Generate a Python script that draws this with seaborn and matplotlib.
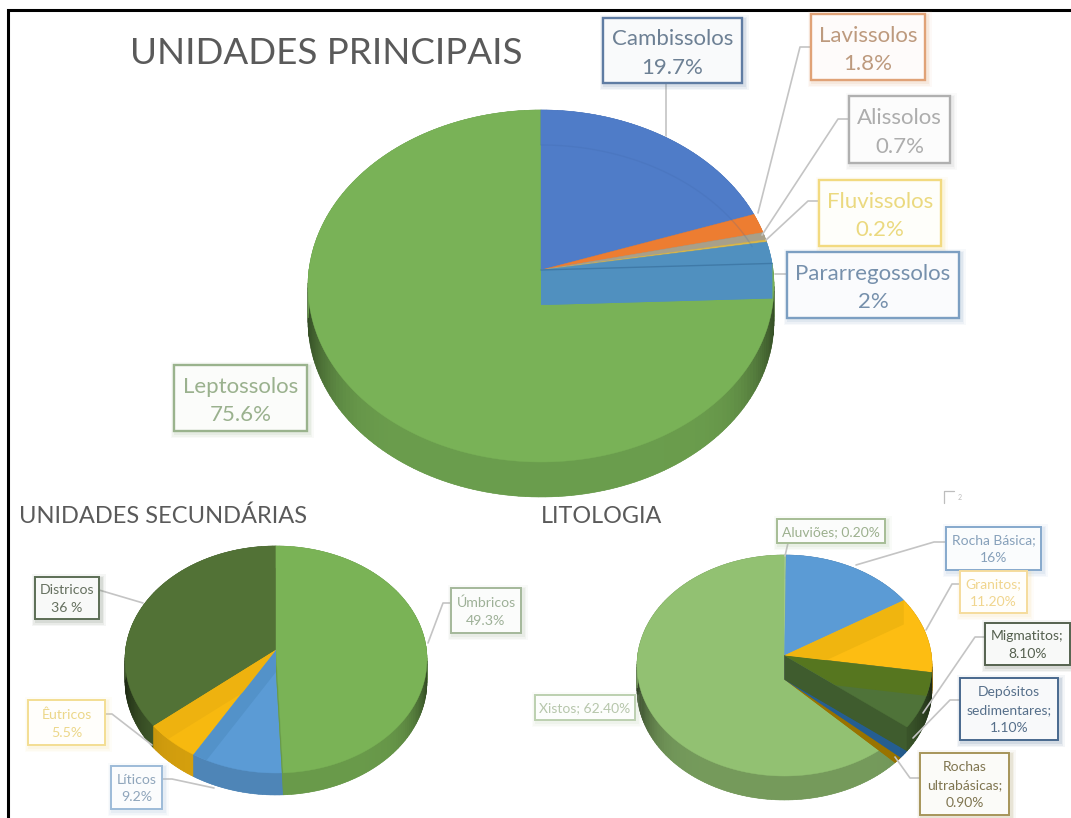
#!/usr/bin/env python3
import matplotlib
matplotlib.use("Agg")
import matplotlib.pyplot as plt
import numpy as np
import seaborn as sns
from matplotlib.colors import to_rgb
from matplotlib.patches import Polygon, Rectangle

# slices, clockwise from 12 o'clock
main_names = ["Cambissolos", "Lavissolos", "Alissolos", "Fluvissolos", "Pararregossolos", "Leptossolos"]
main_values = [19.7, 1.8, 0.7, 0.2, 2.0, 75.6]
main_labels = ["19.7%", "1.8%", "0.7%", "0.2%", "2%", "75.6%"]

sec_names = ["Úmbricos", "Líticos", "Êutricos", "Districos"]
sec_values = [49.3, 9.2, 5.5, 36.0]
sec_labels = ["49.3%", "9.2%", "5.5%", "36 %"]

lit_names = ["Aluviões", "Rocha Básica", "Granitos", "Migmatitos", "Depósitos sedimentares",
             "Rochas ultrabásicas", "Xistos"]
lit_values = [0.2, 16.0, 11.2, 8.1, 1.1, 0.9, 62.4]
lit_labels = ["Aluviões; 0.20%", "Rocha Básica;\n16%", "Granitos;\n11.20%", "Migmatitos;\n8.10%",
              "Depósitos\nsedimentares;\n1.10%", "Rochas\nultrabásicas;\n0.90%", "Xistos; 62.40%"]

main_colors = ["#4f7cc8", "#ed7d31", "#a8a08a", "#d9b84a", "#5090bf", "#79b257"]
main_walls = [0.88, 0.88, 0.88, 0.88, 1.0, 0.88]
sec_colors = ["#7ab356", "#5b9bd5", "#f7b90f", "#527236"]
sec_walls = [0.86, 0.86, 0.86, 0.82]
lit_colors = ["#a9d18e", "#5b9bd5", "#fdbd12", "#4f7339", "#255e91", "#997300", "#92c172"]
lit_walls = [0.8, 0.8, 0.8, 0.8, 1.0, 1.0, 0.8]

# (left, top, right, bottom) of the label boxes, and their leader lines
main_boxes = [(603, 18, 742, 83), (811, 14, 925, 80), (849, 96, 950, 163),
              (819, 180, 941, 246), (787, 252, 959, 318), (174, 365, 307, 431)]
main_leaders = [[(666, 83), (666, 136)], [(811, 47), (800, 47), (758, 213)],
                [(849, 119), (838, 119), (762, 235)], [(819, 201), (808, 201), (766, 240)],
                [(787, 274), (775, 274)], None]
main_edges = ["#5f7ca3", "#e0a277", "#b0b0b0", "#f2da80", "#7c9fc2", "#9ab38d"]
main_texts = ["#6d8094", "#bd9a7e", "#adadad", "#ebd97f", "#7690ac", "#9ab18e"]

sec_boxes = [(451, 588, 521, 633), (111, 766, 162, 809), (28, 700, 105, 745), (35, 577, 99, 619)]
sec_leaders = [[(451, 603), (443, 603), (428, 643)], [(162, 779), (172, 779), (214, 788)],
               [(105, 714), (112, 714), (152, 745)], [(99, 590), (143, 603)]]
sec_edges = ["#a4b89a", "#9dbbd8", "#f3de93", "#5c6e55"]
sec_texts = ["#9db097", "#8fa5bb", "#ecd78a", "#65705f"]

lit_boxes = [(777, 519, 885, 543), (946, 527, 1041, 570), (960, 571, 1027, 613),
             (985, 623, 1070, 665), (960, 678, 1058, 740), (920, 753, 1009, 815), (535, 695, 635, 720)]
lit_leaders = [[(788, 543), (785, 556)], [(946, 542), (934, 542), (856, 565)],
               [(960, 584), (952, 584), (926, 630)], [(985, 637), (975, 637), (923, 713)],
               [(960, 700), (950, 700), (913, 738)], [(920, 778), (910, 778), (895, 757)], None]
lit_edges = ["#a6bd95", "#86a9cc", "#f5dc9c", "#55624f", "#49698e", "#a6955a", "#bcd0b0"]
lit_texts = ["#9cb08e", "#86a0ba", "#f0d58e", "#55604f", "#566f8a", "#7f7550", "#b6c6ab"]

GREY_TITLE = "#5a5a5a"
LEADER = "#c4c4c4"

sns.set_theme(style="white")
plt.rcParams["font.family"] = ["Lato", "DejaVu Sans"]


def _rim(theta, cx, cy, a, b, lift):
    """Where a ray leaving the apex at angle theta meets the ellipse of the top face."""
    t = np.radians(theta)
    dx, dy = np.cos(t), np.sin(t) * b / a
    qa = dx ** 2 / a ** 2 + dy ** 2 / b ** 2
    qb = 2 * dy * lift / b ** 2
    qc = lift ** 2 / b ** 2 - 1
    s = (-qb + np.sqrt(qb ** 2 - 4 * qa * qc)) / (2 * qa)
    return cx + s * dx, cy - (s * dy + lift)


def _shade(color, factor):
    return tuple(c * factor for c in sns.desaturate(color, 1.0))


def draw_pie(ax, values, colors, walls, order, geom, bands=()):
    """Perspective pie: apex sits `lift` px above the centre of the top ellipse."""
    cx, cy, a, b, lift, depth = geom
    apex = (cx, cy - lift)
    edges = 90 - np.cumsum([0] + list(values)) / np.sum(values) * 360

    tops = {}
    for i in order:
        thetas = np.linspace(edges[i], edges[i + 1], max(3, int(abs(edges[i] - edges[i + 1]) / 1.5) + 2))
        xs, ys = _rim(thetas, cx, cy, a, b, lift)
        poly_x = np.r_[apex[0], xs]
        poly_y = np.r_[apex[1], ys]
        tops[i] = np.c_[poly_x, poly_y]

        # end wall and outer side first, the top face covers what it should
        wall_col = _shade(colors[i], walls[i])
        ax.fill(poly_x, poly_y + depth, color=wall_col, lw=0, zorder=2)
        ax.fill([apex[0], xs[-1], xs[-1], apex[0]],
                [apex[1], ys[-1], ys[-1] + depth, apex[1] + depth],
                color=wall_col, lw=0, zorder=2)
        for k in range(len(xs) - 1):
            xm = (xs[k] + xs[k + 1]) / 2
            dark = abs((xm - cx) / a) ** 10 if ys[k] > cy else 0
            col = _shade(colors[i], walls[i] - 0.45 * dark)
            ax.fill([xs[k], xs[k + 1], xs[k + 1], xs[k]],
                    [ys[k], ys[k + 1], ys[k + 1] + depth, ys[k] + depth],
                    color=col, ec=col, lw=0.4, zorder=2)
        ax.fill(poly_x, poly_y, color=colors[i], ec=colors[i], lw=0.3, zorder=2)

    # the faces are slightly see-through: a wall shows up as a darker band on the next face
    for edge_idx, clip_idx, band_col in bands:
        ex, ey = _rim(edges[edge_idx], cx, cy, a, b, lift)
        band = ax.fill([apex[0], ex, ex, apex[0]],
                       [apex[1], ey, ey + depth, apex[1] + depth],
                       color=band_col, lw=0, zorder=2.5)[0]
        band.set_clip_path(Polygon(tops[clip_idx], closed=True, transform=ax.transData))
    return apex, edges


def draw_labels(ax, boxes, leaders, edges, texts, strings, size, lw=1.4, spacing=1.58, nudge=1):
    for box, leader, edge, txt, s in zip(boxes, leaders, edges, texts, strings):
        x0, y0, x1, y1 = box
        if leader is not None:
            ax.plot(*zip(*leader), color=LEADER, lw=1.2, zorder=3)
        for grow, alpha in [(5, 0.06), (3.5, 0.08), (2, 0.12)]:
            ax.add_patch(Rectangle((x0 - grow + 1.5, y0 - grow + 2), x1 - x0 + 2 * grow, y1 - y0 + 2 * grow,
                                   fc=edge, ec="none", alpha=alpha, zorder=4))
        fill = tuple(0.96 + 0.04 * c for c in to_rgb(edge))
        ax.add_patch(Rectangle((x0, y0), x1 - x0, y1 - y0, fc=fill, ec=edge, lw=lw, zorder=5))
        ax.text((x0 + x1) / 2, (y0 + y1) / 2 + nudge, s, color=txt, fontsize=size, ha="center", va="center",
                linespacing=spacing, zorder=6)


def main():
    fig = plt.figure(figsize=(10.71, 8.18), dpi=100)
    ax = fig.add_axes([0, 0, 1, 1])
    ax.set_xlim(0, 1071)
    ax.set_ylim(818, 0)
    ax.axis("off")

    # picture frame, only left and top survive the crop
    ax.plot([8, 8, 1071], [818, 10, 10], color="black", lw=2.2, solid_joinstyle="miter", zorder=1)

    main_geom = (541, 286, 233, 176, 16, 35)
    apex, edges = draw_pie(ax, main_values, main_colors, main_walls, [5, 0, 1, 2, 3, 4], main_geom)
    draw_pie(ax, sec_values, sec_colors, sec_walls, [3, 2, 1, 0], (276, 659.5, 151, 113.5, 9.5, 22),
             bands=[(2, 1, "#5392c9"), (3, 2, "#eeb20f")])
    draw_pie(ax, lit_values, lit_colors, lit_walls, [6, 0, 1, 2, 5, 4, 3], (784.5, 665.5, 147.5, 110.5, 10, 24),
             bands=[(2, 2, "#f0b50f"), (3, 3, "#56761f")])

    # back rim seen through the top of the big pie, and the top edge of the pararregossolos wall
    cx, cy, a, b, lift, depth = main_geom
    ts = np.radians(np.linspace(25, 90, 60))
    ax.plot(cx + a * np.cos(ts), cy - b * np.sin(ts) + depth, color="#3f66a8", alpha=0.2, lw=1, zorder=2.6)
    ex, ey = _rim(edges[5], cx, cy, a, b, lift)
    ax.plot([apex[0], ex], [apex[1], ey], color="#3f7aa8", lw=1, zorder=2.6)

    ax.text(326.5, 54, "UNIDADES PRINCIPAIS", color=GREY_TITLE, fontsize=26.5, ha="center", va="center")
    ax.text(163, 516, "UNIDADES SECUNDÁRIAS", color=GREY_TITLE, fontsize=17, ha="center", va="center")
    ax.text(602, 516.5, "LITOLOGIA", color=GREY_TITLE, fontsize=16.8, ha="center", va="center")

    main_strings = [f"{n}\n{v}" for n, v in zip(main_names, main_labels)]
    sec_strings = [f"{n}\n{v}" for n, v in zip(sec_names, sec_labels)]
    draw_labels(ax, main_boxes, main_leaders, main_edges, main_texts, main_strings, 16, lw=1.7, spacing=1.54, nudge=3)
    draw_labels(ax, sec_boxes, sec_leaders, sec_edges, sec_texts, sec_strings, 10.2)
    draw_labels(ax, lit_boxes, lit_leaders, lit_edges, lit_texts, lit_labels, 10)

    # stray mark left over in the source picture
    ax.plot([944, 944, 954], [503, 491, 491], color="#bdbdbd", lw=0.9, zorder=1)
    ax.text(960, 497, "2", color="#bdbdbd", fontsize=5, ha="center", va="center")

    fig.savefig("out.png", dpi=100)
    plt.close(fig)


if __name__ == "__main__":
    main()
